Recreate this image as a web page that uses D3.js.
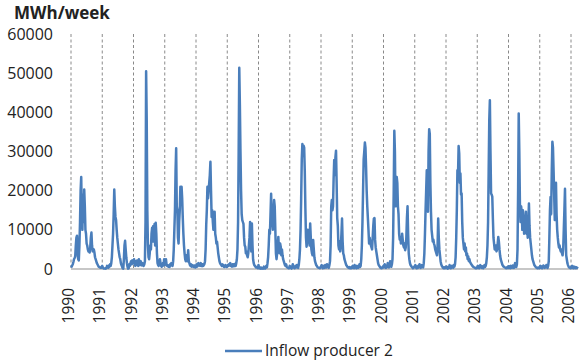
<!DOCTYPE html>
<html>
<head>
<meta charset="utf-8">
<script src="https://cdn.jsdelivr.net/npm/d3@7"></script>
<style>
  body { margin: 0; background: #fff; }
  text { font-family: "Open Sans", "Liberation Sans", sans-serif; fill: #222; }
</style>
</head>
<body>
<div id="chart"></div>
<script>
// weekly inflow, MWh/week, one array per year
const y1990 = [400, 600, 900, 1200, 1800, 2500, 2800, 3200, 6000, 8000,
  8500, 4000, 2500, 2200, 6000, 12000, 20000, 23500, 14000, 10000,
  19000, 12000, 20300, 16000, 10000, 9000, 6500, 6000, 5000, 4500,
  5000, 4200, 5500, 8000, 9300, 6000, 4500, 4800, 5000, 4200,
  3000, 2500, 2000, 1500, 1200, 900, 600, 500, 400, 300, 300, 600];
const y1991 = [800, 400, 200, 100, 100, 200, 100, 300, 800, 500,
  300, 900, 600, 1200, 800, 1500, 3000, 6000, 9000, 14000,
  20300, 16000, 13300, 12500, 10000, 8000, 6500, 5000, 4000, 3000,
  2500, 1500, 1000, 600, 200, 100, 2500, 6000, 7200, 5000,
  3000, 1500, 600, 100, 200, 1200, 800, 1500, 2000, 1200, 2200, 1500];
const y1992 = [1500, 2500, 1200, 800, 2000, 1000, 2200, 1500, 800, 2500,
  1800, 1000, 2000, 1200, 900, 1500, 1000, 800, 1200, 2000,
  12000, 50500, 38000, 15000, 6000, 3000, 2500, 4000, 6000, 5000,
  9000, 10500, 7000, 11000, 8500, 11500, 6000, 11800, 9000, 4000,
  1500, 1000, 800, 1200, 2500, 1500, 800, 600, 1000, 1500, 900, 2500];
const y1993 = [1000, 1500, 2500, 1200, 800, 1000, 600, 800, 500, 1200,
  900, 1500, 1000, 800, 2000, 5000, 10000, 15000, 25000, 30800,
  16000, 15000, 8000, 6500, 12000, 15000, 21000, 20500, 21000, 18000,
  13000, 9000, 6000, 4000, 2500, 2000, 3500, 2000, 2800, 4800,
  2000, 1500, 1000, 800, 1200, 600, 1000, 800, 500, 900, 600, 400];
const y1994 = [800, 1200, 600, 1000, 1500, 900, 1200, 800, 1500, 1000,
  700, 1200, 800, 1000, 1300, 2000, 5000, 11200, 15000, 21000,
  18000, 20000, 22000, 24000, 27400, 20000, 13300, 15000, 12000, 10000,
  12000, 14600, 9000, 8000, 6500, 7000, 5500, 4000, 3000, 2000,
  1500, 1200, 1000, 800, 1200, 1000, 600, 500, 800, 1000, 600, 500];
const y1995 = [600, 1000, 800, 1200, 900, 1500, 800, 1000, 600, 1200,
  900, 700, 1300, 1000, 800, 1500, 2500, 5000, 12000, 30000,
  51400, 42000, 30000, 20000, 14000, 12500, 12000, 11500, 8000, 6000,
  5700, 4000, 4500, 3500, 3000, 4000, 6000, 8000, 12000, 7000,
  4500, 11600, 6000, 2500, 1500, 1000, 800, 600, 400, 500, 300, 200];
const y1996 = [1000, 500, 200, 100, 400, 200, 100, 300, 100, 600,
  300, 100, 500, 800, 400, 1500, 3000, 6000, 10000, 9000,
  14000, 19200, 13000, 12000, 10000, 15000, 17600, 16000, 10000, 4000,
  2500, 4000, 6000, 8200, 5000, 4000, 6500, 5700, 3500, 5000,
  3500, 2500, 2000, 1500, 1000, 800, 1200, 600, 400, 300, 200, 200];
const y1997 = [800, 400, 300, 100, 600, 1200, 800, 300, 200, 500,
  800, 400, 1000, 600, 300, 1000, 2500, 5000, 10000, 18000,
  28000, 31900, 30000, 31500, 31000, 25000, 15500, 8000, 5700, 7000,
  10000, 8500, 9000, 6000, 11600, 8000, 5000, 4000, 3500, 7400,
  5000, 3000, 2000, 1500, 1000, 800, 500, 400, 300, 300, 200, 400];
const y1998 = [600, 1000, 400, 200, 800, 500, 300, 1000, 600, 400,
  1200, 800, 500, 300, 1000, 2000, 6000, 15900, 17600, 15000,
  16000, 23000, 27800, 24000, 28500, 30200, 22000, 13000, 11000, 6000,
  5000, 7000, 4500, 6000, 9000, 12900, 7000, 4000, 3500, 2500,
  2000, 1500, 1000, 800, 500, 400, 300, 500, 200, 300, 200, 500];
const y1999 = [300, 800, 500, 200, 1000, 600, 400, 200, 800, 500,
  300, 700, 1200, 500, 800, 2500, 6000, 12000, 20000, 28000,
  30000, 32300, 31000, 26000, 20000, 16000, 13000, 10000, 6500, 8000,
  7000, 6000, 5500, 5000, 8000, 11000, 12900, 13000, 7500, 5500,
  4500, 3500, 2500, 1500, 1000, 800, 500, 300, 400, 200, 300, 500];
const y2000 = [800, 400, 1200, 600, 300, 900, 500, 1500, 700, 400,
  1000, 2000, 800, 600, 1200, 2500, 8000, 20000, 35300, 30000,
  16000, 20000, 23500, 22000, 16000, 14000, 9000, 7500, 8000, 6500,
  7000, 9000, 7500, 6000, 5500, 6500, 4800, 5500, 8000, 13000,
  16000, 9000, 4000, 2500, 1500, 1000, 800, 500, 400, 200, 300, 600];
const y2001 = [500, 1000, 400, 200, 600, 300, 800, 400, 1200, 600,
  300, 500, 1000, 700, 400, 1500, 4000, 9000, 15000, 20000,
  25200, 16000, 14600, 30000, 35700, 34500, 22000, 14600, 10000, 8500,
  7000, 7500, 6500, 6000, 5000, 4500, 4000, 3500, 6000, 12900,
  8000, 5000, 3500, 2000, 1200, 800, 600, 300, 200, 400, 200, 500];
const y2002 = [300, 600, 200, 100, 500, 300, 1000, 600, 200, 400,
  800, 500, 300, 1000, 600, 1200, 3000, 8000, 15000, 25200,
  24000, 31400, 29500, 22000, 24400, 19000, 19300, 12000, 8000, 6500,
  5000, 6500, 4500, 5500, 3500, 4000, 2500, 3200, 2000, 2500,
  1800, 1500, 1200, 1000, 800, 600, 500, 400, 300, 200, 300, 200];
const y2003 = [400, 800, 300, 200, 600, 1000, 500, 300, 700, 400,
  200, 600, 1000, 500, 800, 1500, 3000, 6000, 12000, 25000,
  38000, 43100, 30000, 19300, 19000, 18500, 12900, 8000, 6500, 5000,
  5500, 6000, 4500, 5000, 6500, 8200, 7000, 5000, 3500, 2500,
  2000, 1500, 1000, 800, 600, 500, 400, 300, 200, 400, 300, 600];
const y2004 = [300, 700, 400, 200, 800, 500, 300, 900, 600, 300,
  800, 1500, 1000, 500, 1200, 5000, 20000, 39700, 30000, 16700,
  12000, 16000, 14500, 10000, 15000, 13000, 9000, 12000, 10500, 14600,
  9000, 11000, 8000, 12000, 16700, 11000, 8000, 6500, 5000, 3500,
  2500, 2000, 1500, 1000, 800, 600, 400, 300, 200, 400, 300, 200];
const y2005 = [500, 800, 300, 600, 200, 400, 900, 500, 300, 700,
  400, 1000, 600, 300, 800, 2000, 8000, 15000, 18400, 14000,
  25000, 32500, 31000, 25200, 19000, 12500, 18400, 22000, 14000, 10000,
  8000, 6500, 5500, 6000, 5000, 4500, 5000, 4000, 3500, 5000,
  10000, 15000, 20500, 10000, 3500, 2500, 1500, 1000, 600, 400, 300, 200];
const y2006 = [500, 300, 800, 400, 200, 600, 300, 500, 200, 400, 300, 600];

const yearLabels = ["1990", "1991", "1992", "1993", "1994", "1995", "1996", "1997", "1998",
  "1999", "2000", "2001", "2002", "2003", "2004", "2005", "2006"];
const yTicks = [0, 10000, 20000, 30000, 40000, 50000, 60000];
const seriesName = "Inflow producer 2";
const unitLabel = "MWh/week";
const weeksPerYear = 52;

const inflow = [].concat(y1990, y1991, y1992, y1993, y1994, y1995, y1996, y1997,
  y1998, y1999, y2000, y2001, y2002, y2003, y2004, y2005, y2006);

const width = 579;
const height = 364;
const lineColor = "#4a7ebb";

const svg = d3.select("#chart")
    .append("svg")
    .attr("width", width)
    .attr("height", height);

const x = d3.scaleLinear()
    .domain([0, weeksPerYear * (yearLabels.length - 1)])
    .range([71, 571]);

const y = d3.scaleLinear()
    .domain([0, 60000])
    .range([269, 34]);

// vertical dashed year lines
svg.append("g")
    .selectAll("line")
    .data(yearLabels)
    .join("line")
    .attr("x1", (d, i) => x(i * weeksPerYear))
    .attr("x2", (d, i) => x(i * weeksPerYear))
    .attr("y1", y(60000))
    .attr("y2", y(0))
    .attr("stroke", "#8a8a8a")
    .attr("stroke-width", 1)
    .attr("stroke-dasharray", "3,2.5");

// baseline
svg.append("line")
    .attr("x1", x(0))
    .attr("x2", 578)
    .attr("y1", y(0))
    .attr("y2", y(0))
    .attr("stroke", "#b5b5b5")
    .attr("stroke-width", 1.5);

// y axis labels
const yAxis = svg.append("g")
    .attr("transform", "translate(53,0)")
    .call(d3.axisLeft(y).tickValues(yTicks).tickSize(0).tickPadding(0).tickFormat(d3.format("d")));
yAxis.select(".domain").remove();
yAxis.selectAll("text")
    .style("font-size", "16px")
    .style("font-family", "\"Open Sans\", sans-serif")
    .attr("fill", "#222");

// year labels, rotated
svg.append("g")
    .selectAll("text")
    .data(yearLabels)
    .join("text")
    .attr("transform", (d, i) => `translate(${x(i * weeksPerYear)},288) rotate(-90)`)
    .attr("text-anchor", "end")
    .attr("dy", "0.2em")
    .style("font-size", "15.5px")
    .text(d => d);

// the series
const line = d3.line()
    .x((d, i) => x(i))
    .y(d => y(d));

svg.append("path")
    .datum(inflow)
    .attr("fill", "none")
    .attr("stroke", lineColor)
    .attr("stroke-width", 2.5)
    .attr("stroke-linejoin", "round")
    .attr("d", line);

// unit title
svg.append("text")
    .attr("x", 14)
    .attr("y", 18.5)
    .style("font-size", "17px")
    .style("font-weight", "bold")
    .text(unitLabel);

// legend
const legend = svg.append("g").attr("transform", "translate(225,351)");
legend.append("line")
    .attr("x1", 0)
    .attr("x2", 37)
    .attr("stroke", lineColor)
    .attr("stroke-width", 2.5);
legend.append("text")
    .attr("x", 40)
    .attr("dy", "0.35em")
    .style("font-size", "15.5px")
    .text(seriesName);
</script>
</body>
</html>
